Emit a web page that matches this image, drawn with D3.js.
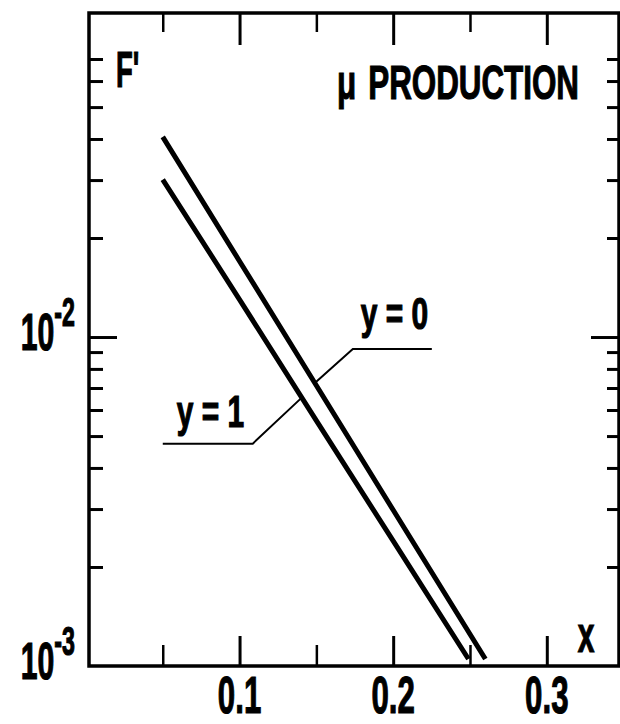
<!DOCTYPE html>
<html lang="en">
<head>
    <meta charset="UTF-8">
    <title>mu production</title>
    <script src="https://d3js.org/d3.v7.min.js"></script>
    <style>
        body {
            margin: 0;
            background-color: #ffffff;
        }

        svg text {
            font-family: "Liberation Sans", Arial, sans-serif;
            font-weight: bold;
            fill: #000;
            stroke: #000;
            stroke-width: 1.2px;
        }
    </style>
</head>
<body>
    <div id="chart"></div>

    <script>
        // Data
        const xMinorTicks = [0.05, 0.15, 0.25];
        const xMajorTicks = [0.1, 0.2, 0.3];
        const xTickLabels = ["0.1", "0.2", "0.3"];
        const yMinorTicks = [2e-3, 3e-3, 4e-3, 5e-3, 6e-3, 7e-3, 8e-3, 9e-3,
                             2e-2, 3e-2, 4e-2, 5e-2, 6e-2, 7e-2];
        const yMajorTicks = [1e-2];
        const yLabelValues = [1e-2, 1e-3];
        const yLabelExponents = ["-2", "-3"];

        // curve y = 0
        const xY0 = [0.05, 0.1, 0.15, 0.2, 0.26];
        const fY0 = [0.0406, 0.0170, 0.00712, 0.00298, 0.00105];
        // curve y = 1
        const xY1 = [0.05, 0.1, 0.15, 0.2, 0.249];
        const fY1 = [0.0301, 0.0130, 0.00557, 0.00240, 0.00105];

        const curveNames = ["y = 0", "y = 1"];
        const curveLabelAt = [0.149, 0.1405];

        // Layout
        const width = 620;
        const height = 724;
        const frame = { left: 89, right: 619, top: 13, bottom: 666 };

        const svg = d3.select("#chart")
            .append("svg")
            .attr("width", width)
            .attr("height", height);

        svg.append("rect")
            .attr("width", width)
            .attr("height", height)
            .attr("fill", "#fff");

        const x = d3.scaleLinear().domain([0.002, 0.347]).range([frame.left, frame.right]);
        const y = d3.scaleLog().domain([1e-3, 0.0966]).range([frame.bottom, frame.top]);

        // Ticks pointing inward on all four sides
        function tickAxis(axis, transform, strokeWidth) {
            const g = svg.append("g")
                .attr("transform", transform)
                .call(axis.tickFormat(""));
            g.select(".domain").remove();
            g.selectAll("line")
                .attr("stroke", "#000")
                .attr("stroke-width", strokeWidth);
        }

        const atBottom = `translate(0,${frame.bottom})`;
        const atTop = `translate(0,${frame.top})`;
        const atLeft = `translate(${frame.left},0)`;
        const atRight = `translate(${frame.right},0)`;

        tickAxis(d3.axisBottom(x).tickValues(xMinorTicks).tickSize(-21), atBottom, 2.5);
        tickAxis(d3.axisBottom(x).tickValues(xMajorTicks).tickSize(-30), atBottom, 3);
        tickAxis(d3.axisTop(x).tickValues(xMinorTicks).tickSize(-19), atTop, 2.5);
        tickAxis(d3.axisTop(x).tickValues(xMajorTicks).tickSize(-32), atTop, 3);
        tickAxis(d3.axisLeft(y).tickValues(yMinorTicks).tickSize(-14), atLeft, 3);
        tickAxis(d3.axisLeft(y).tickValues(yMajorTicks).tickSize(-28), atLeft, 3);
        tickAxis(d3.axisRight(y).tickValues(yMinorTicks).tickSize(-12), atRight, 3);
        tickAxis(d3.axisRight(y).tickValues(yMajorTicks).tickSize(-28), atRight, 3);

        // Frame
        svg.append("rect")
            .attr("x", frame.left)
            .attr("y", frame.top)
            .attr("width", frame.right - frame.left)
            .attr("height", frame.bottom - frame.top)
            .attr("fill", "none")
            .attr("stroke", "#000")
            .attr("stroke-width", 3.5);

        // Condensed text helper
        function label(px, py, str, size, anchor, sx) {
            return svg.append("text")
                .attr("transform", `translate(${px},${py}) scale(${sx},1)`)
                .attr("text-anchor", anchor)
                .style("font-size", size + "px")
                .text(str);
        }

        // x tick labels
        xMajorTicks.forEach((v, i) => {
            label(x(v), 713, xTickLabels[i], 52, "middle", 0.6);
        });

        // y tick labels 10^-2, 10^-3
        yLabelValues.forEach((v, i) => {
            const t = svg.append("text")
                .attr("transform", `translate(75,${y(v) + 13}) scale(0.58,1)`)
                .attr("text-anchor", "end")
                .style("font-size", "52px")
                .text("10");
            t.append("tspan")
                .attr("dy", -24)
                .style("font-size", "40px")
                .text(yLabelExponents[i]);
        });

        // Axis names and title
        label(116, 87, "F'", 50, "start", 0.55);
        label(586, 652, "x", 50, "middle", 0.6);
        label(337, 99, "\u03bc", 49, "start", 0.64);
        label(579, 99, "PRODUCTION", 49, "end", 0.64);

        // Curves
        const line = d3.line()
            .x(d => x(d[0]))
            .y(d => y(d[1]));

        const curves = [d3.zip(xY0, fY0), d3.zip(xY1, fY1)];

        svg.selectAll(".curve")
            .data(curves)
            .enter()
            .append("path")
            .attr("class", "curve")
            .attr("d", line)
            .attr("fill", "none")
            .attr("stroke", "#000")
            .attr("stroke-width", 5);

        // log interpolation along a curve
        function valueAt(xs, fs, xv) {
            const i = Math.max(1, d3.bisectLeft(xs, xv));
            const t = (xv - xs[i - 1]) / (xs[i] - xs[i - 1]);
            return Math.exp(Math.log(fs[i - 1]) + t * (Math.log(fs[i]) - Math.log(fs[i - 1])));
        }

        // Leaders: knee offset, horizontal run, text offset
        const leaders = [
            { dx: 38, dy: -34, run: 79, tx: 8, ty: -20 },
            { dx: -49, dy: 46, run: -90, tx: -76, ty: -17 }
        ];
        const curveData = [[xY0, fY0], [xY1, fY1]];

        leaders.forEach((ld, i) => {
            const xv = curveLabelAt[i];
            const px = x(xv);
            const py = y(valueAt(curveData[i][0], curveData[i][1], xv));
            const kx = px + ld.dx, ky = py + ld.dy;
            svg.append("path")
                .attr("d", `M${px},${py}L${kx},${ky}L${kx + ld.run},${ky}`)
                .attr("fill", "none")
                .attr("stroke", "#000")
                .attr("stroke-width", 2);
            label(kx + ld.tx, ky + ld.ty, curveNames[i], 44, "start", 0.68);
        });
    </script>
</body>
</html>
